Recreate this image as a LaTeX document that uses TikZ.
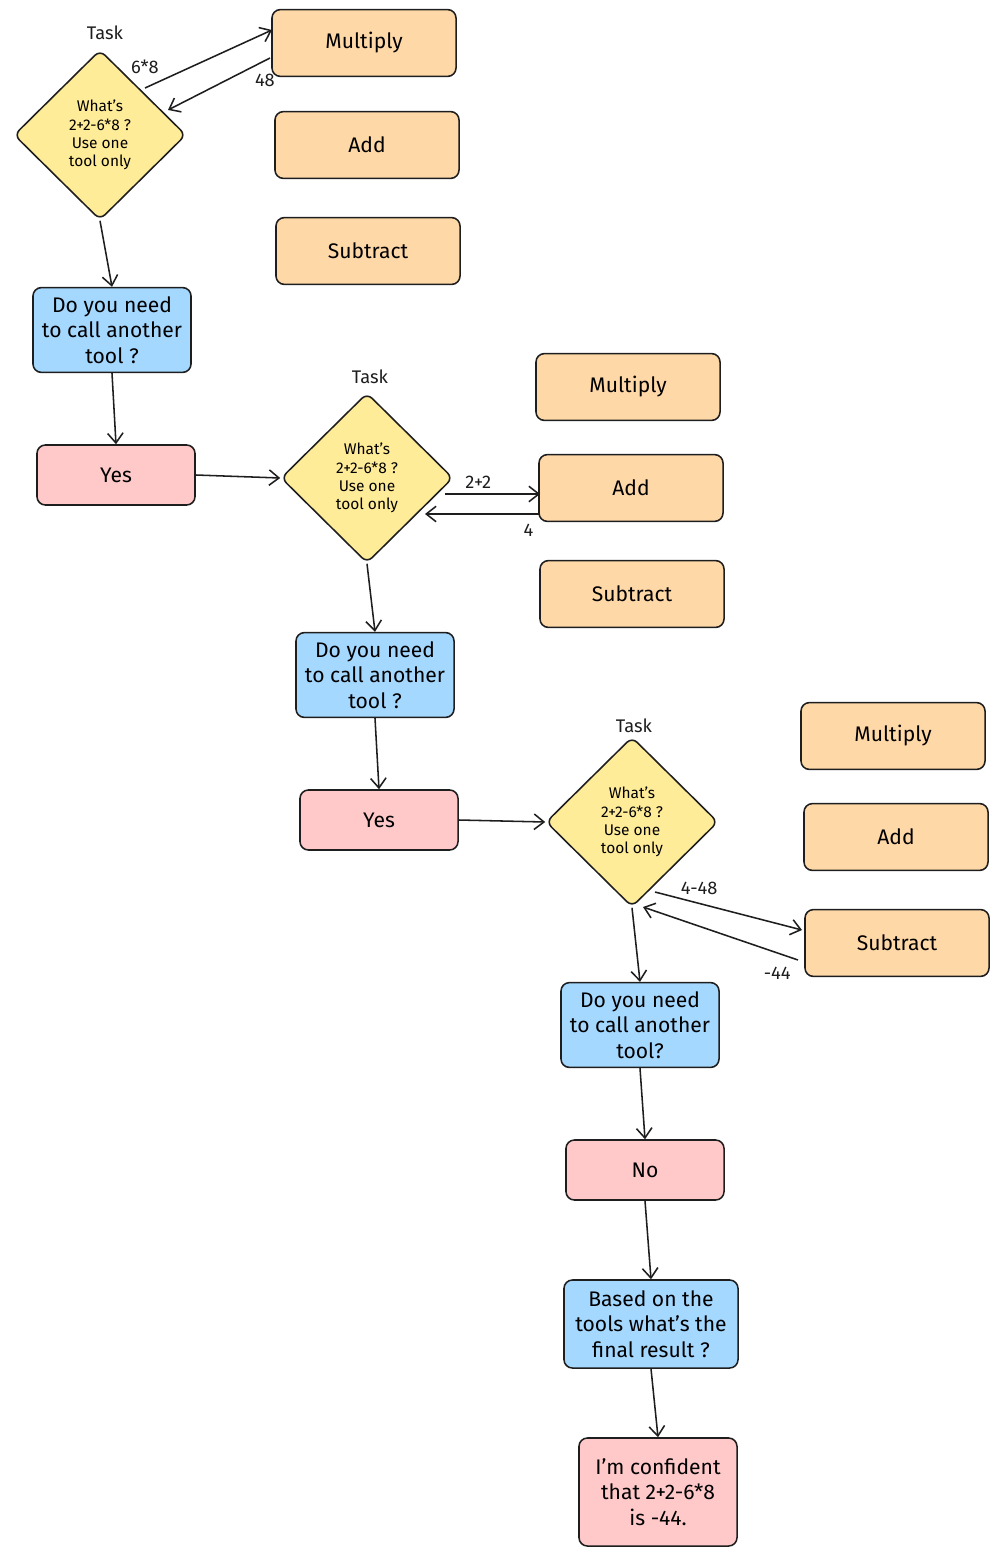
\documentclass[tikz,border=0pt]{standalone}
\usepackage{fontspec}
\setmainfont{Fira Sans}
\usetikzlibrary{shapes.geometric,arrows.meta,positioning}
\definecolor{toolfill}{HTML}{FFD8A8}
\definecolor{taskfill}{HTML}{FFEC99}
\definecolor{askfill}{HTML}{A5D8FF}
\definecolor{ansfill}{HTML}{FFC9C9}
\definecolor{ink}{HTML}{1E1E1E}
\tikzset{
  tool/.style={draw=ink,line width=1.1pt,rounded corners=6pt,fill=toolfill,minimum width=4.6cm,minimum height=1.67cm,font=\fontsize{15}{18}\selectfont},
  task/.style={draw=ink,line width=1.1pt,diamond,rounded corners=5pt,fill=taskfill,minimum width=4.3cm,minimum height=4.25cm,inner sep=0pt,align=center,font=\fontsize{11}{13}\selectfont},
  ask/.style={draw=ink,line width=1.1pt,rounded corners=6pt,fill=askfill,minimum width=3.95cm,minimum height=2.12cm,align=center,font=\fontsize{15}{18}\selectfont},
  answer/.style={draw=ink,line width=1.1pt,rounded corners=6pt,fill=ansfill,minimum width=3.95cm,minimum height=1.5cm,align=center,font=\fontsize{15}{18}\selectfont},
  flow/.style={-{Straight Barb[length=7pt,width=11pt]},line width=1.1pt,draw=ink},
  lbl/.style={font=\fontsize{13}{15}\selectfont,text=ink}
}
\begin{document}
\begin{tikzpicture}[x=0.025cm,y=-0.025cm]
\useasboundingbox (0,0) rectangle (999,1557);
% first round
\node[task] (d1) at (100,135) {What's\\2+2-6*8 ?\\Use one\\tool only};
\node[lbl] at (105,33) {Task};
\node[tool] (m1) at (364,43) {Multiply};
\node[tool] (a1) at (367,145) {Add};
\node[tool] (s1) at (368,251) {Subtract};
\node[ask] (q1) at (112,330) {Do you need\\to call another\\tool ?};
\node[answer] (y1) at (116,475) {Yes};
% second round
\node[task] (d2) at (367,478) {What's\\2+2-6*8 ?\\Use one\\tool only};
\node[lbl] at (370,377) {Task};
\node[tool] (m2) at (628,387) {Multiply};
\node[tool] (a2) at (631,488) {Add};
\node[tool] (s2) at (632,594) {Subtract};
\node[ask] (q2) at (375,675) {Do you need\\to call another\\tool ?};
\node[answer] (y2) at (379,820) {Yes};
% third round
\node[task] (d3) at (632,822) {What's\\2+2-6*8 ?\\Use one\\tool only};
\node[lbl] at (634,726) {Task};
\node[tool] (m3) at (893,736) {Multiply};
\node[tool] (a3) at (896,837) {Add};
\node[tool] (s3) at (897,943) {Subtract};
\node[ask] (q3) at (640,1025) {Do you need\\to call another\\tool?};
\node[answer] (n3) at (645,1170) {No};
\node[ask,minimum width=4.35cm,minimum height=2.2cm] (b4) at (651,1324) {Based on the\\tools what's the\\final result ?};
\node[answer,minimum height=2.7cm] (fin) at (658,1492) {I'm confident\\that 2+2-6*8\\is -44.};
% tool call ends
\coordinate (c1o) at (145,88);  \coordinate (c1i) at (272,30);
\coordinate (r1o) at (270,58);  \coordinate (r1i) at (168,110);
\coordinate (c2o) at (445,494); \coordinate (c2i) at (540,494);
\coordinate (r2o) at (540,514); \coordinate (r2i) at (425,514);
\coordinate (c3o) at (655,892); \coordinate (c3i) at (802,930);
\coordinate (r3o) at (798,960); \coordinate (r3i) at (643,907);
% tool calls
\draw[flow] (c1o) -- (c1i) node[lbl,pos=0.15,above left=0pt] {6*8};
\draw[flow] (r1o) -- (r1i) node[lbl,pos=0.05,below=6pt] {48};
\draw[flow] (c2o) -- (c2i) node[lbl,pos=0.35,above] {2+2};
\draw[flow] (r2o) -- (r2i) node[lbl,pos=0.1,below=3pt] {4};
\draw[flow] (c3o) -- (c3i) node[lbl,pos=0.3,above=2pt] {4-48};
\draw[flow] (r3o) -- (r3i) node[lbl,pos=0,below left=2pt] {-44};
% main flow
\draw[flow] (d1.south) -- (q1.north);
\draw[flow] (q1.south) -- (y1.north);
\draw[flow] (y1.east) -- (d2.west);
\draw[flow] (d2.south) -- (q2.north);
\draw[flow] (q2.south) -- (y2.north);
\draw[flow] (y2.east) -- (d3.west);
\draw[flow] (d3.south) -- (q3.north);
\draw[flow] (q3.south) -- (n3.north);
\draw[flow] (n3.south) -- (b4.north);
\draw[flow] (b4.south) -- (fin.north);
\end{tikzpicture}
\end{document}
